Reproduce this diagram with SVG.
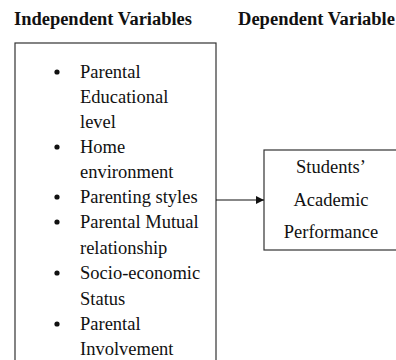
<svg xmlns="http://www.w3.org/2000/svg" width="396" height="360" viewBox="0 0 396 360">
<style>
.t{font-family:"Liberation Serif","Times New Roman",serif;font-size:18.5px;fill:#111}
.h{font-family:"Liberation Serif","Times New Roman",serif;font-size:18px;font-weight:bold;fill:#111}
.box{fill:#fff;stroke:#333;stroke-width:1.2}
</style>
<defs>
<marker id="ah" markerWidth="8" markerHeight="8" refX="8" refY="4" orient="auto" markerUnits="userSpaceOnUse">
<path d="M0,0 L8,4 L0,8 Z" fill="#111"/>
</marker>
</defs>
<rect width="396" height="360" fill="#fff"/>
<text class="h" x="14" y="25" textLength="178" lengthAdjust="spacingAndGlyphs">Independent Variables</text>
<text class="h" x="238" y="25" textLength="157" lengthAdjust="spacingAndGlyphs">Dependent Variable</text>
<g id="independent">
<rect class="box" x="15" y="43" width="201" height="330"/>
<g class="t">
<circle cx="57" cy="72" r="2.6" fill="#111"/>
<text x="80" y="78">Parental</text>
<text x="80" y="103">Educational</text>
<text x="80" y="128">level</text>
<circle cx="57" cy="147" r="2.6" fill="#111"/>
<text x="80" y="153">Home</text>
<text x="80" y="178">environment</text>
<circle cx="57" cy="197" r="2.6" fill="#111"/>
<text x="80" y="203">Parenting styles</text>
<circle cx="57" cy="222" r="2.6" fill="#111"/>
<text x="80" y="228">Parental Mutual</text>
<text x="80" y="254">relationship</text>
<circle cx="57" cy="273" r="2.6" fill="#111"/>
<text x="80" y="279">Socio-economic</text>
<text x="80" y="305">Status</text>
<circle cx="57" cy="324" r="2.6" fill="#111"/>
<text x="80" y="330">Parental</text>
<text x="80" y="355">Involvement</text>
</g>
</g>
<g id="dependent">
<rect class="box" x="264" y="150" width="150" height="100"/>
<g class="t" text-anchor="middle">
<text x="331" y="173">Students’</text>
<text x="331" y="206">Academic</text>
<text x="331" y="238">Performance</text>
</g>
</g>
<g id="connectors">
<line x1="216" y1="200" x2="264" y2="200" stroke="#111" stroke-width="1.2" marker-end="url(#ah)"/>
</g>
</svg>
